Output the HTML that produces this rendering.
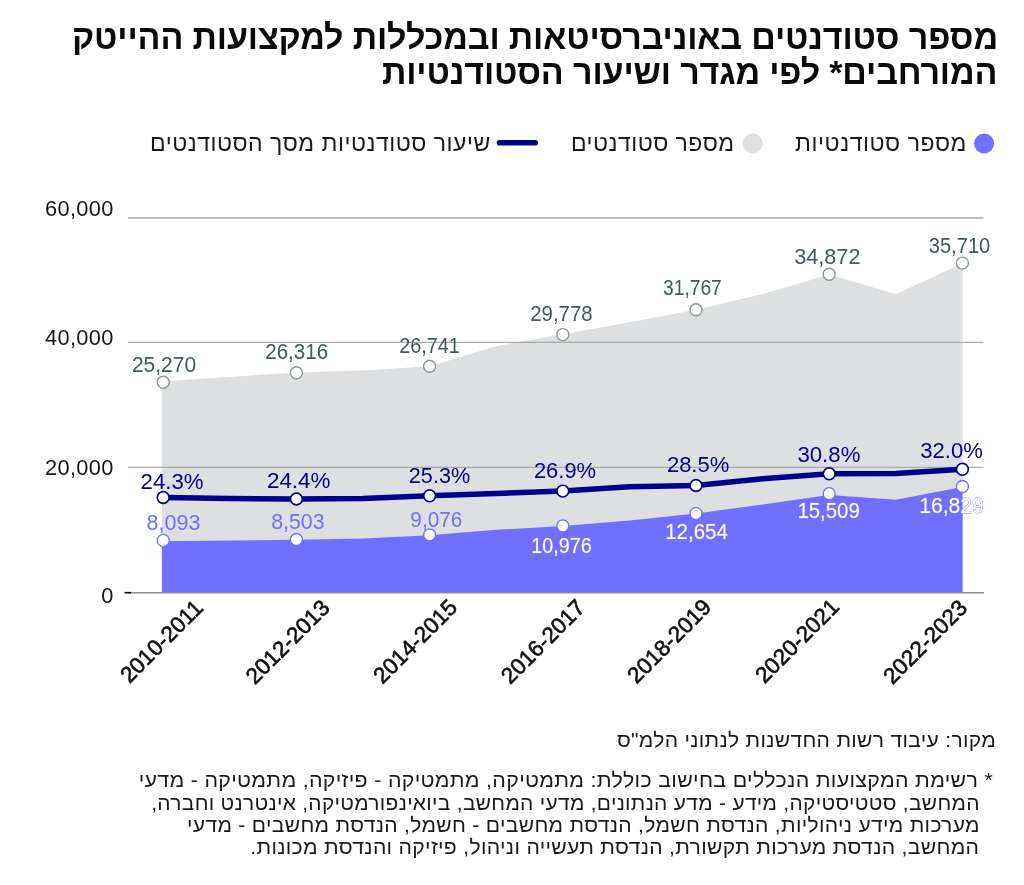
<!DOCTYPE html>
<html lang="he">
<head>
<meta charset="utf-8">
<title>chart</title>
<style>
html,body{margin:0;padding:0;background:#fff;}
body{width:1024px;height:885px;position:relative;overflow:hidden;font-family:"Liberation Sans",sans-serif;color:#111;}
.t{position:absolute;direction:rtl;white-space:nowrap;right:26.4px;text-align:right;transform-origin:100% 50%;}
.title{font-weight:bold;font-size:34px;line-height:36px;letter-spacing:-0.146px;color:#0a0a0a;}
.lg{position:absolute;direction:rtl;white-space:nowrap;font-size:23px;line-height:26px;color:#1a1a1a;transform-origin:100% 50%;}
.fn{font-size:20.8px;line-height:22px;color:#1a1a1a;letter-spacing:0.3px;}
svg{position:absolute;left:0;top:0;will-change:transform;}
.t,.lg{will-change:transform;}
svg text{font-family:"Liberation Sans",sans-serif;}
</style>
</head>
<body>
<div class="t title" id="t1" style="top:19px;">מספר סטודנטים באוניברסיטאות ובמכללות למקצועות ההייטק</div>
<div class="t title" id="t2" style="top:54.4px;">המורחבים* לפי מגדר ושיעור הסטודנטיות</div>

<div class="lg" id="l1" style="top:129.6px;right:57.5px;letter-spacing:0.57px;">מספר סטודנטיות</div>
<div class="lg" id="l2" style="top:129.6px;right:289px;letter-spacing:0.48px;">מספר סטודנטים</div>
<div class="lg" id="l3" style="top:129.6px;right:533.5px;letter-spacing:0.52px;">שיעור סטודנטיות מסך הסטודנטים</div>

<div class="t fn" id="src" style="top:729.3px;right:28.2px;transform:scaleX(1.0135);">מקור: עיבוד רשות החדשנות לנתוני הלמ"ס</div>
<div class="t fn" id="f1" style="top:769.2px;right:31px;transform:scaleX(1.028);">* רשימת המקצועות הנכללים בחישוב כוללת: מתמטיקה, מתמטיקה - פיזיקה, מתמטיקה - מדעי</div>
<div class="t fn" id="f2" style="top:791.5px;right:44.6px;transform:scaleX(1.007);">המחשב, סטטיסטיקה, מידע - מדע הנתונים, מדעי המחשב, ביואינפורמטיקה, אינטרנט וחברה,</div>
<div class="t fn" id="f3" style="top:813.8px;right:44.6px;transform:scaleX(1.014);">מערכות מידע ניהוליות, הנדסת חשמל, הנדסת מחשבים - חשמל, הנדסת מחשבים - מדעי</div>
<div class="t fn" id="f4" style="top:836.3px;right:44.6px;transform:scaleX(1.0177);">המחשב, הנדסת מערכות תקשורת, הנדסת תעשייה וניהול, פיזיקה והנדסת מכונות.</div>

<svg id="chart" width="1024" height="885" viewBox="0 0 1024 885">
<circle cx="984.1" cy="143.5" r="10" fill="#7070ff"/>
<circle cx="752.7" cy="143.5" r="10" fill="#dddfe0"/>
<line x1="499.5" y1="142.8" x2="535.2" y2="142.8" stroke="#00008c" stroke-width="5.6" stroke-linecap="round"/>
<polygon fill="#dddfe0" points="161.9,592.7 161.9,381.2 163.2,381.2 229.8,377.0 296.4,372.4 363.0,370.4 429.6,366.2 496.2,346.2 562.8,334.3 629.4,322.3 696.0,309.7 762.6,294.1 829.2,274.6 895.8,294.3 962.4,263.3 962.6,263.3 962.6,592.7"/>
<g stroke="#a9abab" stroke-width="1.3">
<line x1="128" y1="218.0" x2="983.5" y2="218.0"/>
<line x1="128" y1="342.3" x2="983.5" y2="342.3"/>
<line x1="128" y1="467.3" x2="983.5" y2="467.3"/>
</g>
<polygon fill="#7070ff" points="161.9,592.7 161.9,541.2 163.2,541.2 229.8,540.6 296.4,539.8 363.0,538.6 429.6,535.2 496.2,529.8 562.8,526.0 629.4,520.4 696.0,513.6 762.6,504.6 829.2,495.0 895.8,499.7 962.4,487.0 962.6,487.0 962.6,592.7"/>
<line x1="128" y1="592.7" x2="984" y2="592.7" stroke="#8c8c8c" stroke-width="1.6"/>
<line x1="124.5" y1="592.7" x2="131" y2="592.7" stroke="#111" stroke-width="1.6"/>
<g font-size="21.8" fill="#151515" text-anchor="end" letter-spacing="0.35">
<text x="113.8" y="216.2">60,000</text>
<text x="113.8" y="345.3">40,000</text>
<text x="113.8" y="474.9">20,000</text>
<text x="113.8" y="603.2">0</text>
</g>
<polyline fill="none" stroke="#00008c" stroke-width="5.5" stroke-linejoin="round" points="163.2,497.5 229.8,498.6 296.4,499.0 363.0,498.6 429.6,495.8 496.2,493.5 562.8,491.1 629.4,486.8 696.0,485.5 762.6,478.7 829.2,473.8 895.8,473.6 962.4,469.3"/>
<circle cx="163.2" cy="382.3" r="6" fill="#fff" stroke="#8b9a98" stroke-width="1.4"/>
<circle cx="163.2" cy="540.4" r="6" fill="#fff" stroke="#7070ff" stroke-width="1.3"/>
<circle cx="163.2" cy="497.5" r="5.9" fill="#fff" stroke="#00008c" stroke-width="1.6"/>
<circle cx="296.4" cy="372.7" r="6" fill="#fff" stroke="#8b9a98" stroke-width="1.4"/>
<circle cx="296.4" cy="539.5" r="6" fill="#fff" stroke="#7070ff" stroke-width="1.3"/>
<circle cx="296.4" cy="499.0" r="5.9" fill="#fff" stroke="#00008c" stroke-width="1.6"/>
<circle cx="429.6" cy="366.3" r="6" fill="#fff" stroke="#8b9a98" stroke-width="1.4"/>
<circle cx="429.6" cy="534.8" r="6" fill="#fff" stroke="#7070ff" stroke-width="1.3"/>
<circle cx="429.6" cy="495.8" r="5.9" fill="#fff" stroke="#00008c" stroke-width="1.6"/>
<circle cx="562.8" cy="334.6" r="6" fill="#fff" stroke="#8b9a98" stroke-width="1.4"/>
<circle cx="562.8" cy="525.9" r="6" fill="#fff" stroke="#7070ff" stroke-width="1.3"/>
<circle cx="562.8" cy="491.1" r="5.9" fill="#fff" stroke="#00008c" stroke-width="1.6"/>
<circle cx="696.0" cy="309.8" r="6" fill="#fff" stroke="#8b9a98" stroke-width="1.4"/>
<circle cx="696.0" cy="513.4" r="6" fill="#fff" stroke="#7070ff" stroke-width="1.3"/>
<circle cx="696.0" cy="485.5" r="5.9" fill="#fff" stroke="#00008c" stroke-width="1.6"/>
<circle cx="829.2" cy="274.2" r="6" fill="#fff" stroke="#8b9a98" stroke-width="1.4"/>
<circle cx="829.2" cy="493.7" r="6" fill="#fff" stroke="#7070ff" stroke-width="1.3"/>
<circle cx="829.2" cy="473.8" r="5.9" fill="#fff" stroke="#00008c" stroke-width="1.6"/>
<circle cx="962.4" cy="263.1" r="6" fill="#fff" stroke="#8b9a98" stroke-width="1.4"/>
<circle cx="962.4" cy="486.5" r="6" fill="#fff" stroke="#7070ff" stroke-width="1.3"/>
<circle cx="962.4" cy="469.3" r="5.9" fill="#fff" stroke="#00008c" stroke-width="1.6"/>
<g font-size="21.5" text-anchor="middle">
<text x="164.0" y="371.5" textLength="64.1" lengthAdjust="spacingAndGlyphs" fill="#3f5a5a">25,270</text>
<text x="172.1" y="488.6" textLength="63.0" lengthAdjust="spacingAndGlyphs" fill="#00008c">24.3%</text>
<text x="173.4" y="529.8" textLength="54.0" lengthAdjust="spacingAndGlyphs" fill="#7070ff">8,093</text>
<text x="296.7" y="358.6" textLength="63.0" lengthAdjust="spacingAndGlyphs" fill="#3f5a5a">26,316</text>
<text x="298.7" y="487.9" textLength="63.5" lengthAdjust="spacingAndGlyphs" fill="#00008c">24.4%</text>
<text x="297.9" y="529.0" textLength="53.4" lengthAdjust="spacingAndGlyphs" fill="#7070ff">8,503</text>
<text x="429.4" y="353.4" textLength="60.5" lengthAdjust="spacingAndGlyphs" fill="#3f5a5a">26,741</text>
<text x="439.5" y="482.9" textLength="61.3" lengthAdjust="spacingAndGlyphs" fill="#00008c">25.3%</text>
<text x="436.3" y="527.1" textLength="51.9" lengthAdjust="spacingAndGlyphs" fill="#7070ff">9,076</text>
<text x="561.4" y="321.2" textLength="62.4" lengthAdjust="spacingAndGlyphs" fill="#3f5a5a">29,778</text>
<text x="565.0" y="478.2" textLength="62.1" lengthAdjust="spacingAndGlyphs" fill="#00008c">26.9%</text>
<text x="561.5" y="553.4" textLength="60.4" lengthAdjust="spacingAndGlyphs" fill="#fff" stroke="#8a8aff" stroke-width="0.9" paint-order="stroke">10,976</text>
<text x="692.4" y="294.8" textLength="58.7" lengthAdjust="spacingAndGlyphs" fill="#3f5a5a">31,767</text>
<text x="698.1" y="471.8" textLength="62.4" lengthAdjust="spacingAndGlyphs" fill="#00008c">28.5%</text>
<text x="696.5" y="539.3" textLength="62.6" lengthAdjust="spacingAndGlyphs" fill="#fff" stroke="#8a8aff" stroke-width="0.9" paint-order="stroke">12,654</text>
<text x="827.3" y="263.6" textLength="66.3" lengthAdjust="spacingAndGlyphs" fill="#3f5a5a">34,872</text>
<text x="828.9" y="461.9" textLength="63.0" lengthAdjust="spacingAndGlyphs" fill="#00008c">30.8%</text>
<text x="828.6" y="518.4" textLength="62.4" lengthAdjust="spacingAndGlyphs" fill="#fff" stroke="#8a8aff" stroke-width="0.9" paint-order="stroke">15,509</text>
<text x="959.5" y="252.8" textLength="61.5" lengthAdjust="spacingAndGlyphs" fill="#3f5a5a">35,710</text>
<text x="951.6" y="457.6" textLength="62.6" lengthAdjust="spacingAndGlyphs" fill="#00008c">32.0%</text>
<text x="951.5" y="512.9" textLength="64.7" lengthAdjust="spacingAndGlyphs" fill="#fff" stroke="#8a8aff" stroke-width="0.9" paint-order="stroke">16,829</text>
</g>
<g font-size="22.5" fill="#111" stroke="#111" stroke-width="0.6" text-anchor="end">
<text transform="translate(204.3,609.2) rotate(-45)">2010-2011</text>
<text transform="translate(331.0,609.1) rotate(-45)">2012-2013</text>
<text transform="translate(458.7,608.7) rotate(-45)">2014-2015</text>
<text transform="translate(586.4,609.0) rotate(-45)">2016-2017</text>
<text transform="translate(712.7,608.4) rotate(-45)">2018-2019</text>
<text transform="translate(840.6,608.2) rotate(-45)">2020-2021</text>
<text transform="translate(968.6,609.1) rotate(-45)">2022-2023</text>
</g>
</svg>
</body>
</html>
